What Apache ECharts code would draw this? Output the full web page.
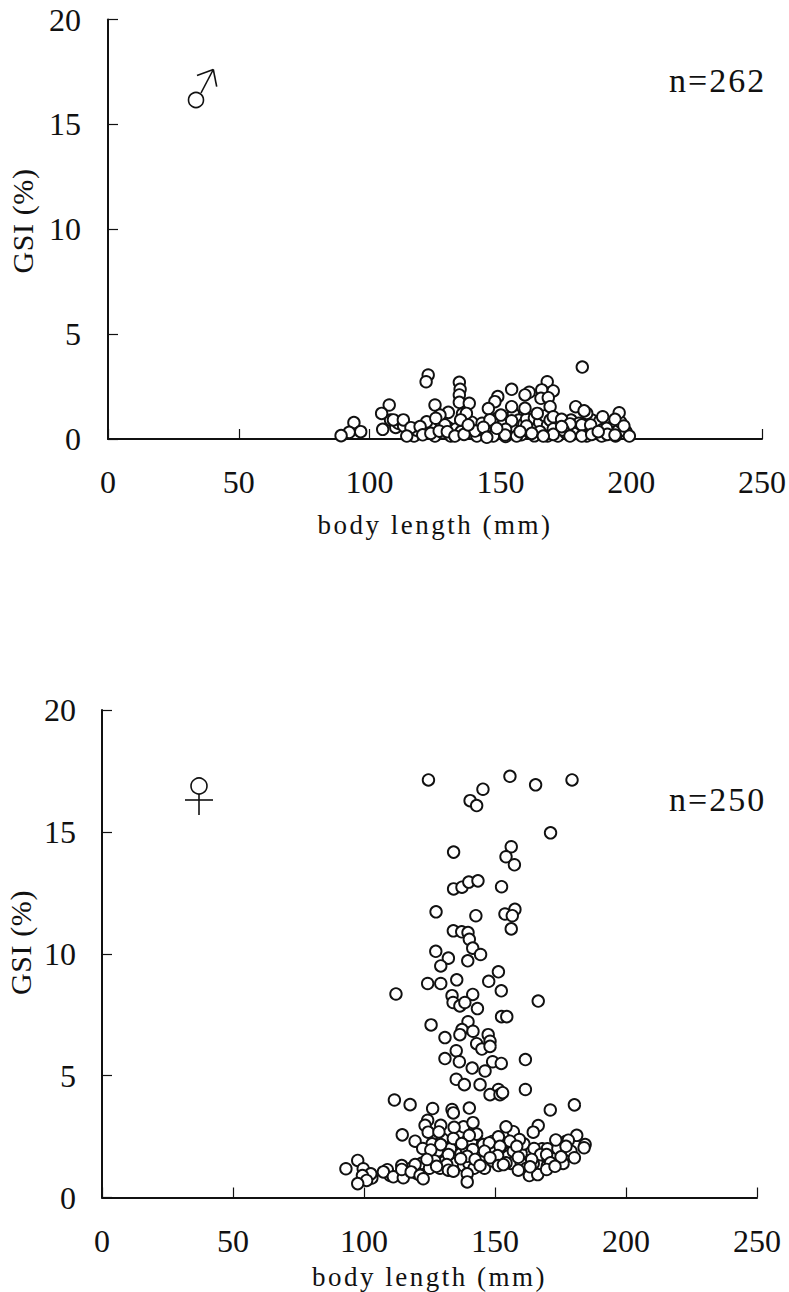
<!DOCTYPE html>
<html><head><meta charset="utf-8">
<style>
html,body{margin:0;padding:0;background:#fff}
#c{width:789px;height:1292px}
svg text[style*="27px"]{letter-spacing:2.5px}
svg text[style*="34px"]{letter-spacing:2px}
svg text[style*="30px"]{letter-spacing:.6px}
</style>
<script src="https://cdn.jsdelivr.net/npm/echarts@6/dist/echarts.min.js"></script>
</head><body><div id="c"></div>
<script>
const xTicks = [0, 50, 100, 150, 200, 250];
const yTicks = [0, 5, 10, 15, 20];
const xName = 'body length (mm)';
const yName = 'GSI (%)';
const maleLabel = 'n=262', femaleLabel = 'n=250';

const maleLength = [108,110,111,113,116,117,118,122,124,125,127,128,130,131,133,135,135.5,136,138,139,141,142,143,145,146,147,148,149,150,151,152,153,155,155,156,157,158,159,160,161,162,163,163,164,165,166,167,168,168,169,171,172,172,175,175,177,178,179,180,182,183,183,185,186,187,188,189,190,191,192,193,194,195,196,198,181.3,122.4,121.6,134.3,134.6,134.3,134.3,167.9,165.8,170.2,154.3,161,159.4,149,165.5,168.3,147.9,107.5,125,138.1,145.4,154.3,159.4,169,178.8,104.6,130.1,137,150.2,164.1,183,182,195.4,189.1,193.8,109.1,112.9,126.9,146,154.3,170.2,173.4,121.8,125.3,134.8,181.1,176.6,197.2,94,92.2,96.6,105,115.8,119.3,128.8,140.3,143.5,152,160,170.2,165.1,174,184.5,190.6,89.1,114.2,120.3,123.4,126.6,129.7,132.6,136.1,147.3,151.8,156.2,162,170.2,166.4,176.6,181.1,184.9,188.7,190.9,193.8,199.3,137.7,148.6,157.5,173.4,187.4,144.8];
const maleGSI = [.9,.55,.75,.62,.3,.14,.42,.5,.62,.14,.85,.3,.55,.14,.48,.35,1.2,.95,.28,.8,.14,.45,.75,.3,.55,.8,.25,1,.4,.7,.12,.3,.62,1.2,.4,.9,.2,.72,.95,.35,.6,1,.15,.5,.8,.3,1.1,.65,.14,.9,.3,.7,.14,.3,.55,.9,.25,.5,.75,.35,.5,.14,.9,.3,.6,.85,.45,.2,.7,.35,.6,.14,.4,.8,.35,3.43,3.05,2.73,2.7,2.37,2.1,1.75,2.73,2.34,2.29,2.37,2.23,2.1,2.02,1.94,1.97,1.78,1.62,1.62,1.7,1.45,1.54,1.46,1.54,1.54,1.22,1.27,1.22,1.14,1.22,1.22,1.34,1.25,1.06,.94,.91,.91,1.14,.91,.87,1.06,.94,.82,.99,.91,.67,.72,.62,.78,.32,.35,.46,.54,.59,.67,.38,.56,.46,.62,.48,.35,.43,.67,.51,.16,.14,.2,.27,.38,.35,.14,.22,.14,.19,.14,.27,.22,.14,.14,.14,.22,.14,.22,.19,.14,.67,.51,.35,.59,.35,.08];

const femaleLength = [126,128,130,131,133,133,135,136,137,138,138,139,140,141,142,143,143,145,146,147,149,149,150,152,153,155,156,157,157,160,160,161,162,165,166,167,168,170,170,172,174,176,177,179,118,120,122,125,127,129,110,103,124.6,155.7,165.5,179.4,145.4,140.5,143,171.2,134.2,156.2,154.2,157.4,134.2,137.4,140,143.5,152.5,127.5,142.7,153.8,157.6,156.6,156.2,134.1,137.3,139.7,140.2,141.5,144.5,127.4,132.2,129.3,139.6,151.3,147.6,124.3,129.3,135.4,152.4,112.2,141.5,133.6,134,136.6,138.5,143.3,166.5,152.5,154.5,139.7,125.6,137.4,136.6,141.6,147.4,130.9,148.1,143,145,148.1,135.2,130.9,136.4,149.1,152.4,161.6,141.3,146.2,135.2,138.3,144.3,151.3,161.6,148.1,151.9,152.9,111.6,117.6,126.2,133.6,134.1,140.2,171.1,180.3,124.3,123.3,141.6,154.2,166.5,164.6,129.3,134.4,124.5,128.6,114.6,140.2,134.1,119.5,151.3,159.3,155.7,181.2,173.2,178,137.3,129.3,145.5,147.8,184.4,184,177.1,164.9,122.4,125.5,141.5,146,151.9,158.3,132.2,139.4,151,158.9,167.4,169.7,175.2,180.3,124,136.9,142.4,148.1,154.2,164.6,171.2,164,131.6,127.7,144.3,151.3,153.2,114.4,119.5,108.9,107.4,93.1,97.6,99.7,102.6,99.4,101,97.6,111.2,115,114.4,118,121.4,122.6,132.2,134.1,139.4,139.4,158.9,163.1,166.3,169.7,172.9,163.4];
const femaleGSI = [2.2,1.9,2.4,1.5,2,1.2,1.4,2.6,1.8,1.3,2.9,2,1.4,2.3,1.2,1.9,2.6,1.5,1.2,2,1.5,2.3,1.9,1.4,2.2,1.7,1.4,1.9,2.7,1.4,1.8,2.2,1.2,1.1,1.7,1.3,2,1.3,2,1.6,2,1.4,2.3,1.9,1.2,1,1.4,1.2,1.5,1.2,.9,.8,17.13,17.28,16.93,17.13,16.75,16.28,16.08,14.96,14.17,14.39,13.98,13.65,12.66,12.73,12.94,12.99,12.75,11.72,11.56,11.63,11.82,11.56,11.02,10.94,10.9,10.87,10.59,10.23,9.97,10.1,9.82,9.5,9.71,9.26,8.87,8.78,8.78,8.93,8.48,8.35,8.33,8.28,8,7.86,8,7.75,8.06,7.42,7.42,7.21,7.08,6.89,6.68,6.82,6.68,6.56,6.41,6.31,6.09,6.2,6.02,5.7,5.57,5.57,5.5,5.66,5.31,5.19,4.85,4.63,4.63,4.43,4.43,4.22,4.22,4.3,4,3.81,3.65,3.61,3.47,3.67,3.59,3.8,3.17,2.96,3.07,2.9,2.95,2.68,2.96,2.88,2.68,2.69,2.57,2.55,2.42,2.31,2.49,2.38,2.31,2.55,2.36,2.35,2.21,2.17,2.17,2.24,2.17,2.04,2.1,2.01,2.01,1.95,1.97,1.9,2.1,2.1,1.76,1.69,1.72,1.65,1.76,1.76,1.67,1.63,1.56,1.59,1.56,1.63,1.42,1.39,1.42,1.56,1.35,1.28,1.31,1.31,1.35,1.31,1.35,1.14,1.05,1.18,1.52,1.18,.97,.9,.7,.57,.85,.81,1.15,1.05,.91,.77,1.12,1.08,.97,.64,1.12,.9,.94,1.15,1.28,1.26];

const zip = (a, b) => a.map((v, i) => [v, b[i]]);
const serif = '"Liberation Serif","Times New Roman",serif';
const black = '#111';

function xAxis(gridIndex, margin, nameGap) {
  return {
    type: 'value', gridIndex, min: 0, max: 250, interval: 50,
    name: xName, nameLocation: 'middle', nameGap,
    nameTextStyle: {fontFamily: serif, fontSize: 27, color: black},
    axisLine: {show: true, onZero: false, lineStyle: {color: black, width: 2}},
    axisTick: {show: true, inside: true, length: 10, lineStyle: {color: black, width: 1.2}},
    axisLabel: {fontFamily: serif, fontSize: 32, color: black, margin, showMinLabel: true, showMaxLabel: true},
    splitLine: {show: false}
  };
}
function yAxis(gridIndex, margin) {
  return {
    type: 'value', gridIndex, min: 0, max: 20, interval: 5,
    axisLine: {show: true, lineStyle: {color: black, width: 2}},
    axisTick: {show: true, inside: true, length: 10, lineStyle: {color: black, width: 1.2}},
    axisLabel: {fontFamily: serif, fontSize: 32, color: black, margin, showMinLabel: true, showMaxLabel: true},
    splitLine: {show: false}
  };
}
function scatter(i, data) {
  return {
    type: 'scatter', xAxisIndex: i, yAxisIndex: i, data,
    symbol: 'circle', symbolSize: 11.5, clip: false, silent: true, animation: false,
    itemStyle: {color: '#fff', borderColor: black, borderWidth: 1.9, opacity: 1}
  };
}
const symStroke = {stroke: black, lineWidth: 1.6, fill: 'none'};
const seg = (x1, y1, x2, y2) => ({type: 'line', shape: {x1, y1, x2, y2}, style: symStroke});
const yTitle = (x, y) => ({type: 'text', x, y, rotation: Math.PI / 2,
  style: {text: yName, font: '30px ' + serif, fill: black, align: 'center', verticalAlign: 'middle'}});
const chart = echarts.init(document.getElementById('c'), null, {renderer: 'svg', width: 789, height: 1292});
chart.setOption({
  animation: false,
  backgroundColor: '#fff',
  grid: [
    {left: 108, top: 19.5, width: 654, height: 419.5, outerBoundsMode: 'none'},
    {left: 102, top: 710, width: 655, height: 487.5, outerBoundsMode: 'none'}
  ],
  xAxis: [xAxis(0, 27, 72), xAxis(1, 27, 66)],
  yAxis: [yAxis(0, 27), yAxis(1, 26)],
  series: [scatter(0, zip(maleLength, maleGSI)), scatter(1, zip(femaleLength, femaleGSI))],
  graphic: [
    yTitle(22, 221), yTitle(20.5, 942.5),
    {type: 'text', x: 669, y: 63, style: {text: maleLabel, font: '34px ' + serif, fill: black}},
    {type: 'text', x: 669, y: 782, style: {text: femaleLabel, font: '34px ' + serif, fill: black}},
    {type: 'circle', shape: {cx: 196, cy: 100, r: 7.5}, style: symStroke},
    seg(201, 93, 213.3, 69.5), seg(197, 75.5, 213.3, 69.5), seg(213.3, 69.5, 216.7, 86.7),
    {type: 'circle', shape: {cx: 199, cy: 786, r: 8}, style: symStroke},
    seg(199, 794, 199, 815), seg(185, 800, 213, 800)
  ]
});
</script></body></html>
